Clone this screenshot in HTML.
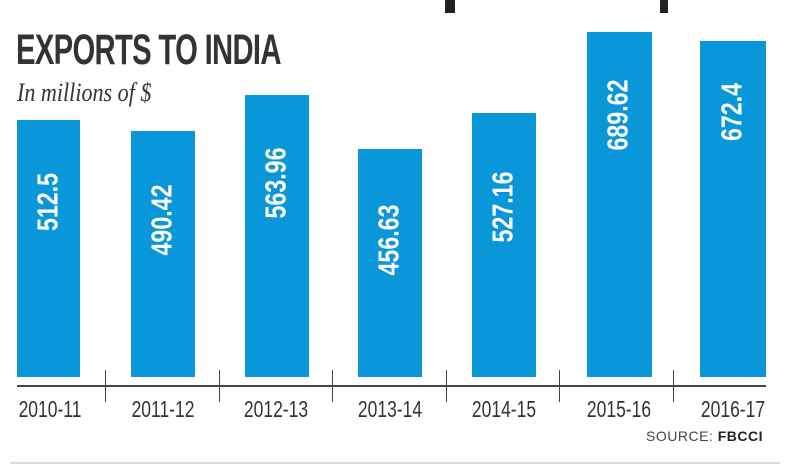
<!DOCTYPE html>
<html><head><meta charset="utf-8"><style>
body{margin:0;width:791px;height:467px;background:#fff;position:relative;overflow:hidden;font-family:"Liberation Sans Narrow","Liberation Sans",sans-serif}
.b{position:absolute;background:#0a97d9;bottom:90px}
.v{position:absolute;color:#fff;font-weight:bold;font-size:29px;white-space:nowrap;transform:translate(-50%,-50%) rotate(-90deg) scaleX(0.8)}
.l{position:absolute;top:396px;font-size:23px;color:#333;transform:translateX(-50%) scaleX(0.76);white-space:nowrap}
.t{position:absolute;width:1px;background:#444;top:370px;height:32px}
</style></head><body>
<div style="position:absolute;left:445px;top:0;width:10px;height:13px;background:#222"></div>
<div style="position:absolute;left:660px;top:0;width:8px;height:13px;background:#222"></div>
<div style="position:absolute;left:16px;top:26px;font-size:43px;font-weight:bold;color:#333;transform-origin:0 0;transform:scaleX(0.68);white-space:nowrap;letter-spacing:-1px">EXPORTS TO INDIA</div>
<div style="position:absolute;left:17px;top:78px;font-family:'Liberation Serif',serif;font-style:italic;font-size:26px;color:#333;transform-origin:0 0;transform:scaleX(0.85);white-space:nowrap">In millions of $</div>
<div class="b" style="left:17px;width:63px;top:120px"></div>
<div class="b" style="left:131px;width:64px;top:131px"></div>
<div class="b" style="left:245px;width:64px;top:95px"></div>
<div class="b" style="left:358px;width:64px;top:149px"></div>
<div class="b" style="left:472px;width:64px;top:113px"></div>
<div class="b" style="left:587px;width:65px;top:32px"></div>
<div class="b" style="left:700px;width:66px;top:41px"></div>
<div class="v" style="left:49px;top:202px">512.5</div>
<div class="v" style="left:163px;top:220px">490.42</div>
<div class="v" style="left:277px;top:183px">563.96</div>
<div class="v" style="left:390px;top:240px">456.63</div>
<div class="v" style="left:504px;top:207px">527.16</div>
<div class="v" style="left:619px;top:115px">689.62</div>
<div class="v" style="left:733px;top:112px">672.4</div>
<div style="position:absolute;left:17px;width:749px;top:385px;height:2px;background:#444"></div>
<div class="t" style="left:105px"></div><div class="t" style="left:219px"></div><div class="t" style="left:332px"></div><div class="t" style="left:446px"></div><div class="t" style="left:559px"></div><div class="t" style="left:673px"></div>
<div class="l" style="left:50px">2010-11</div><div class="l" style="left:163px">2011-12</div><div class="l" style="left:276px">2012-13</div><div class="l" style="left:390px">2013-14</div><div class="l" style="left:504px">2014-15</div><div class="l" style="left:619px">2015-16</div><div class="l" style="left:733px">2016-17</div>
<div style="position:absolute;right:28px;top:428px;font-size:14px;color:#444;letter-spacing:0.5px">SOURCE: <b style="color:#222">FBCCI</b></div>
<div style="position:absolute;left:10px;width:770px;top:462px;height:2px;background:#ddd"></div>
</body></html>
